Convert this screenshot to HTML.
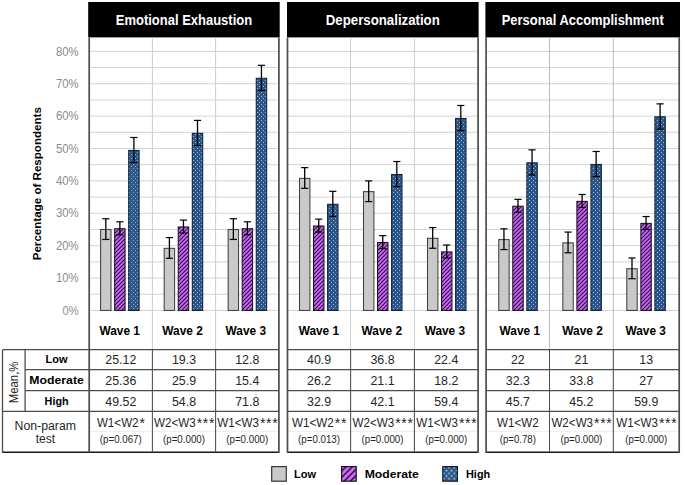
<!DOCTYPE html><html><head><meta charset="utf-8"><style>html,body{margin:0;padding:0;background:#fff;width:685px;height:485px;overflow:hidden}svg{display:block}text{font-family:"Liberation Sans",sans-serif}</style></head><body>
<svg width="685" height="485" viewBox="0 0 685 485">
<defs>
<pattern id="pm" patternUnits="userSpaceOnUse" width="4" height="4"><rect width="4" height="4" fill="#cc66ff"/><path d="M-1,5L5,-1M-3,3L3,-3M1,7L7,1" stroke="#2a1236" stroke-width="1.1"/></pattern>
<pattern id="ph" patternUnits="userSpaceOnUse" width="4" height="4"><rect width="4" height="4" fill="#2b5689"/><rect x="1" y="0" width="1" height="1" fill="#96b3d4"/><rect x="3" y="2" width="1" height="1" fill="#96b3d4"/></pattern>
<pattern id="pmL" patternUnits="userSpaceOnUse" x="341" y="466" width="4.4" height="4.4" patternTransform="rotate(45 348.8 474)"><rect width="4.4" height="4.4" fill="#cf6cff"/><rect width="1.5" height="4.4" fill="#2a1236"/></pattern>
<pattern id="phL" patternUnits="userSpaceOnUse" x="442.5" y="466.3" width="5.2" height="5.5"><rect width="5.2" height="5.5" fill="#2d5a8c"/><rect x="0.6" y="0.75" width="1.5" height="1.5" fill="#c4d6ea"/><rect x="3.2" y="3.5" width="1.5" height="1.5" fill="#c4d6ea"/></pattern>
</defs>
<rect width="685" height="485" fill="#fff"/>
<text x="78.8" y="314.65" font-size="12.4" fill="#8c8c8c" text-anchor="end" textLength="16.2" lengthAdjust="spacingAndGlyphs">0%</text>
<text x="78.8" y="282.26" font-size="12.4" fill="#8c8c8c" text-anchor="end" textLength="22.9" lengthAdjust="spacingAndGlyphs">10%</text>
<text x="78.8" y="249.87" font-size="12.4" fill="#8c8c8c" text-anchor="end" textLength="22.9" lengthAdjust="spacingAndGlyphs">20%</text>
<text x="78.8" y="217.48" font-size="12.4" fill="#8c8c8c" text-anchor="end" textLength="22.9" lengthAdjust="spacingAndGlyphs">30%</text>
<text x="78.8" y="185.09" font-size="12.4" fill="#8c8c8c" text-anchor="end" textLength="22.9" lengthAdjust="spacingAndGlyphs">40%</text>
<text x="78.8" y="152.70" font-size="12.4" fill="#8c8c8c" text-anchor="end" textLength="22.9" lengthAdjust="spacingAndGlyphs">50%</text>
<text x="78.8" y="120.31" font-size="12.4" fill="#8c8c8c" text-anchor="end" textLength="22.9" lengthAdjust="spacingAndGlyphs">60%</text>
<text x="78.8" y="87.92" font-size="12.4" fill="#8c8c8c" text-anchor="end" textLength="22.9" lengthAdjust="spacingAndGlyphs">70%</text>
<text x="78.8" y="55.53" font-size="12.4" fill="#8c8c8c" text-anchor="end" textLength="22.9" lengthAdjust="spacingAndGlyphs">80%</text>
<text transform="translate(40.6,183.7) rotate(-90)" x="0" y="0" font-size="11.2" font-weight="bold" fill="#000" text-anchor="middle" textLength="153.2" lengthAdjust="spacingAndGlyphs">Percentage of Respondents</text>
<rect x="88.2" y="2" width="191.50" height="35.4" fill="#000"/>
<text x="183.95" y="24.7" font-size="14" font-weight="bold" fill="#fff" text-anchor="middle" textLength="136.3" lengthAdjust="spacingAndGlyphs">Emotional Exhaustion</text>
<line x1="89.2" x2="278.9" y1="310.45" y2="310.45" stroke="#d3d3d3" stroke-width="1"/>
<line x1="89.2" x2="278.9" y1="294.25" y2="294.25" stroke="#d3d3d3" stroke-width="1"/>
<line x1="89.2" x2="278.9" y1="278.06" y2="278.06" stroke="#d3d3d3" stroke-width="1"/>
<line x1="89.2" x2="278.9" y1="261.87" y2="261.87" stroke="#d3d3d3" stroke-width="1"/>
<line x1="89.2" x2="278.9" y1="245.67" y2="245.67" stroke="#d3d3d3" stroke-width="1"/>
<line x1="89.2" x2="278.9" y1="229.47" y2="229.47" stroke="#d3d3d3" stroke-width="1"/>
<line x1="89.2" x2="278.9" y1="213.28" y2="213.28" stroke="#d3d3d3" stroke-width="1"/>
<line x1="89.2" x2="278.9" y1="197.08" y2="197.08" stroke="#d3d3d3" stroke-width="1"/>
<line x1="89.2" x2="278.9" y1="180.89" y2="180.89" stroke="#d3d3d3" stroke-width="1"/>
<line x1="89.2" x2="278.9" y1="164.69" y2="164.69" stroke="#d3d3d3" stroke-width="1"/>
<line x1="89.2" x2="278.9" y1="148.50" y2="148.50" stroke="#d3d3d3" stroke-width="1"/>
<line x1="89.2" x2="278.9" y1="132.31" y2="132.31" stroke="#d3d3d3" stroke-width="1"/>
<line x1="89.2" x2="278.9" y1="116.11" y2="116.11" stroke="#d3d3d3" stroke-width="1"/>
<line x1="89.2" x2="278.9" y1="99.91" y2="99.91" stroke="#d3d3d3" stroke-width="1"/>
<line x1="89.2" x2="278.9" y1="83.72" y2="83.72" stroke="#d3d3d3" stroke-width="1"/>
<line x1="89.2" x2="278.9" y1="67.53" y2="67.53" stroke="#d3d3d3" stroke-width="1"/>
<line x1="89.2" x2="278.9" y1="51.33" y2="51.33" stroke="#d3d3d3" stroke-width="1"/>
<line x1="152.4" x2="152.4" y1="37.4" y2="349.7" stroke="#cdcdcd" stroke-width="1"/>
<line x1="215.6" x2="215.6" y1="37.4" y2="349.7" stroke="#cdcdcd" stroke-width="1"/>
<rect x="100.60" y="229.49" width="10.4" height="80.96" fill="#c9c9c9" stroke="#404040" stroke-width="1.05"/>
<rect x="114.65" y="228.71" width="10.4" height="81.74" fill="url(#pm)" stroke="#1e1024" stroke-width="1.05"/>
<rect x="128.70" y="150.45" width="10.4" height="160.00" fill="url(#ph)" stroke="#10203a" stroke-width="1.05"/>
<line x1="105.80" x2="105.80" y1="218.72" y2="239.45" stroke="#000" stroke-width="1.3"/>
<line x1="102.20" x2="109.40" y1="218.72" y2="218.72" stroke="#000" stroke-width="1.2"/>
<line x1="102.20" x2="109.40" y1="239.45" y2="239.45" stroke="#000" stroke-width="1.2"/>
<line x1="119.85" x2="119.85" y1="221.83" y2="234.79" stroke="#000" stroke-width="1.3"/>
<line x1="116.25" x2="123.45" y1="221.83" y2="221.83" stroke="#000" stroke-width="1.2"/>
<line x1="116.25" x2="123.45" y1="234.79" y2="234.79" stroke="#000" stroke-width="1.2"/>
<line x1="133.90" x2="133.90" y1="137.49" y2="162.62" stroke="#000" stroke-width="1.3"/>
<line x1="130.30" x2="137.50" y1="137.49" y2="137.49" stroke="#000" stroke-width="1.2"/>
<line x1="130.30" x2="137.50" y1="162.62" y2="162.62" stroke="#000" stroke-width="1.2"/>
<text x="119.70" y="334.7" font-size="12" font-weight="bold" fill="#000" text-anchor="middle" textLength="40.5" lengthAdjust="spacingAndGlyphs">Wave 1</text>
<text x="120.80" y="364.10" font-size="12.4" fill="#262626" text-anchor="middle">25.12</text>
<text x="120.80" y="385.10" font-size="12.4" fill="#262626" text-anchor="middle">25.36</text>
<text x="120.80" y="405.80" font-size="12.4" fill="#262626" text-anchor="middle">49.52</text>
<text x="96.90" y="426.8" font-size="12" fill="#262626" textLength="41.7" lengthAdjust="spacingAndGlyphs">W1&lt;W2</text>
<text x="139.60" y="427.6" font-size="14" fill="#262626">*</text>
<text x="120.80" y="443" font-size="10" fill="#262626" text-anchor="middle" textLength="41.9" lengthAdjust="spacingAndGlyphs">(p=0.067)</text>
<rect x="164.20" y="248.34" width="10.4" height="62.11" fill="#c9c9c9" stroke="#404040" stroke-width="1.05"/>
<rect x="178.25" y="226.96" width="10.4" height="83.49" fill="url(#pm)" stroke="#1e1024" stroke-width="1.05"/>
<rect x="192.30" y="133.35" width="10.4" height="177.10" fill="url(#ph)" stroke="#10203a" stroke-width="1.05"/>
<line x1="169.40" x2="169.40" y1="237.57" y2="258.30" stroke="#000" stroke-width="1.3"/>
<line x1="165.80" x2="173.00" y1="237.57" y2="237.57" stroke="#000" stroke-width="1.2"/>
<line x1="165.80" x2="173.00" y1="258.30" y2="258.30" stroke="#000" stroke-width="1.2"/>
<line x1="183.45" x2="183.45" y1="220.08" y2="233.04" stroke="#000" stroke-width="1.3"/>
<line x1="179.85" x2="187.05" y1="220.08" y2="220.08" stroke="#000" stroke-width="1.2"/>
<line x1="179.85" x2="187.05" y1="233.04" y2="233.04" stroke="#000" stroke-width="1.2"/>
<line x1="197.50" x2="197.50" y1="120.39" y2="145.52" stroke="#000" stroke-width="1.3"/>
<line x1="193.90" x2="201.10" y1="120.39" y2="120.39" stroke="#000" stroke-width="1.2"/>
<line x1="193.90" x2="201.10" y1="145.52" y2="145.52" stroke="#000" stroke-width="1.2"/>
<text x="182.60" y="334.7" font-size="12" font-weight="bold" fill="#000" text-anchor="middle" textLength="40.5" lengthAdjust="spacingAndGlyphs">Wave 2</text>
<text x="184.00" y="364.10" font-size="12.4" fill="#262626" text-anchor="middle">19.3</text>
<text x="184.00" y="385.10" font-size="12.4" fill="#262626" text-anchor="middle">25.9</text>
<text x="184.00" y="405.80" font-size="12.4" fill="#262626" text-anchor="middle">54.8</text>
<text x="154.00" y="426.8" font-size="12" fill="#262626" textLength="41.7" lengthAdjust="spacingAndGlyphs">W2&lt;W3</text>
<text x="196.70 202.80 208.90" y="427.6" font-size="14" fill="#262626">***</text>
<text x="184.00" y="443" font-size="10" fill="#262626" text-anchor="middle" textLength="41.9" lengthAdjust="spacingAndGlyphs">(p=0.000)</text>
<rect x="228.15" y="229.49" width="10.4" height="80.96" fill="#c9c9c9" stroke="#404040" stroke-width="1.05"/>
<rect x="242.20" y="228.71" width="10.4" height="81.74" fill="url(#pm)" stroke="#1e1024" stroke-width="1.05"/>
<rect x="256.25" y="78.29" width="10.4" height="232.16" fill="url(#ph)" stroke="#10203a" stroke-width="1.05"/>
<line x1="233.35" x2="233.35" y1="218.72" y2="239.45" stroke="#000" stroke-width="1.3"/>
<line x1="229.75" x2="236.95" y1="218.72" y2="218.72" stroke="#000" stroke-width="1.2"/>
<line x1="229.75" x2="236.95" y1="239.45" y2="239.45" stroke="#000" stroke-width="1.2"/>
<line x1="247.40" x2="247.40" y1="221.83" y2="234.79" stroke="#000" stroke-width="1.3"/>
<line x1="243.80" x2="251.00" y1="221.83" y2="221.83" stroke="#000" stroke-width="1.2"/>
<line x1="243.80" x2="251.00" y1="234.79" y2="234.79" stroke="#000" stroke-width="1.2"/>
<line x1="261.45" x2="261.45" y1="65.32" y2="90.46" stroke="#000" stroke-width="1.3"/>
<line x1="257.85" x2="265.05" y1="65.32" y2="65.32" stroke="#000" stroke-width="1.2"/>
<line x1="257.85" x2="265.05" y1="90.46" y2="90.46" stroke="#000" stroke-width="1.2"/>
<text x="245.80" y="334.7" font-size="12" font-weight="bold" fill="#000" text-anchor="middle" textLength="40.5" lengthAdjust="spacingAndGlyphs">Wave 3</text>
<text x="247.25" y="364.10" font-size="12.4" fill="#262626" text-anchor="middle">12.8</text>
<text x="247.25" y="385.10" font-size="12.4" fill="#262626" text-anchor="middle">15.4</text>
<text x="247.25" y="405.80" font-size="12.4" fill="#262626" text-anchor="middle">71.8</text>
<text x="217.25" y="426.8" font-size="12" fill="#262626" textLength="41.7" lengthAdjust="spacingAndGlyphs">W1&lt;W3</text>
<text x="259.95 266.05 272.15" y="427.6" font-size="14" fill="#262626">***</text>
<text x="247.25" y="443" font-size="10" fill="#262626" text-anchor="middle" textLength="41.9" lengthAdjust="spacingAndGlyphs">(p=0.000)</text>
<line x1="89.2" x2="278.9" y1="349.7" y2="349.7" stroke="#4d4d4d" stroke-width="1.3"/>
<line x1="89.2" x2="278.9" y1="369.6" y2="369.6" stroke="#4d4d4d" stroke-width="1.3"/>
<line x1="89.2" x2="278.9" y1="390.6" y2="390.6" stroke="#4d4d4d" stroke-width="1.3"/>
<line x1="89.2" x2="278.9" y1="411.3" y2="411.3" stroke="#4d4d4d" stroke-width="1.3"/>
<line x1="89.2" x2="278.9" y1="452.2" y2="452.2" stroke="#1a1a1a" stroke-width="1.6"/>
<line x1="89.2" x2="278.9" y1="431.3" y2="431.3" stroke="#ececec" stroke-width="1"/>
<line x1="152.4" x2="152.4" y1="349.7" y2="452.2" stroke="#4d4d4d" stroke-width="1.05"/>
<line x1="215.6" x2="215.6" y1="349.7" y2="452.2" stroke="#4d4d4d" stroke-width="1.05"/>
<line x1="89.2" x2="89.2" y1="37.4" y2="453.0" stroke="#4d4d4d" stroke-width="1.7"/>
<line x1="278.9" x2="278.9" y1="37.4" y2="453.0" stroke="#4d4d4d" stroke-width="1.7"/>
<rect x="287" y="2" width="191.60" height="35.4" fill="#000"/>
<text x="382.80" y="24.7" font-size="14" font-weight="bold" fill="#fff" text-anchor="middle" textLength="114" lengthAdjust="spacingAndGlyphs">Depersonalization</text>
<line x1="287.5" x2="478.1" y1="310.45" y2="310.45" stroke="#d3d3d3" stroke-width="1"/>
<line x1="287.5" x2="478.1" y1="294.25" y2="294.25" stroke="#d3d3d3" stroke-width="1"/>
<line x1="287.5" x2="478.1" y1="278.06" y2="278.06" stroke="#d3d3d3" stroke-width="1"/>
<line x1="287.5" x2="478.1" y1="261.87" y2="261.87" stroke="#d3d3d3" stroke-width="1"/>
<line x1="287.5" x2="478.1" y1="245.67" y2="245.67" stroke="#d3d3d3" stroke-width="1"/>
<line x1="287.5" x2="478.1" y1="229.47" y2="229.47" stroke="#d3d3d3" stroke-width="1"/>
<line x1="287.5" x2="478.1" y1="213.28" y2="213.28" stroke="#d3d3d3" stroke-width="1"/>
<line x1="287.5" x2="478.1" y1="197.08" y2="197.08" stroke="#d3d3d3" stroke-width="1"/>
<line x1="287.5" x2="478.1" y1="180.89" y2="180.89" stroke="#d3d3d3" stroke-width="1"/>
<line x1="287.5" x2="478.1" y1="164.69" y2="164.69" stroke="#d3d3d3" stroke-width="1"/>
<line x1="287.5" x2="478.1" y1="148.50" y2="148.50" stroke="#d3d3d3" stroke-width="1"/>
<line x1="287.5" x2="478.1" y1="132.31" y2="132.31" stroke="#d3d3d3" stroke-width="1"/>
<line x1="287.5" x2="478.1" y1="116.11" y2="116.11" stroke="#d3d3d3" stroke-width="1"/>
<line x1="287.5" x2="478.1" y1="99.91" y2="99.91" stroke="#d3d3d3" stroke-width="1"/>
<line x1="287.5" x2="478.1" y1="83.72" y2="83.72" stroke="#d3d3d3" stroke-width="1"/>
<line x1="287.5" x2="478.1" y1="67.53" y2="67.53" stroke="#d3d3d3" stroke-width="1"/>
<line x1="287.5" x2="478.1" y1="51.33" y2="51.33" stroke="#d3d3d3" stroke-width="1"/>
<line x1="350.6" x2="350.6" y1="37.4" y2="349.7" stroke="#cdcdcd" stroke-width="1"/>
<line x1="414.4" x2="414.4" y1="37.4" y2="349.7" stroke="#cdcdcd" stroke-width="1"/>
<rect x="299.50" y="178.37" width="10.4" height="132.08" fill="#c9c9c9" stroke="#404040" stroke-width="1.05"/>
<rect x="313.55" y="225.99" width="10.4" height="84.46" fill="url(#pm)" stroke="#1e1024" stroke-width="1.05"/>
<rect x="327.60" y="204.29" width="10.4" height="106.16" fill="url(#ph)" stroke="#10203a" stroke-width="1.05"/>
<line x1="304.70" x2="304.70" y1="167.61" y2="188.34" stroke="#000" stroke-width="1.3"/>
<line x1="301.10" x2="308.30" y1="167.61" y2="167.61" stroke="#000" stroke-width="1.2"/>
<line x1="301.10" x2="308.30" y1="188.34" y2="188.34" stroke="#000" stroke-width="1.2"/>
<line x1="318.75" x2="318.75" y1="219.11" y2="232.07" stroke="#000" stroke-width="1.3"/>
<line x1="315.15" x2="322.35" y1="219.11" y2="219.11" stroke="#000" stroke-width="1.2"/>
<line x1="315.15" x2="322.35" y1="232.07" y2="232.07" stroke="#000" stroke-width="1.2"/>
<line x1="332.80" x2="332.80" y1="191.32" y2="216.45" stroke="#000" stroke-width="1.3"/>
<line x1="329.20" x2="336.40" y1="191.32" y2="191.32" stroke="#000" stroke-width="1.2"/>
<line x1="329.20" x2="336.40" y1="216.45" y2="216.45" stroke="#000" stroke-width="1.2"/>
<text x="318.90" y="334.7" font-size="12" font-weight="bold" fill="#000" text-anchor="middle" textLength="40.5" lengthAdjust="spacingAndGlyphs">Wave 1</text>
<text x="319.05" y="364.10" font-size="12.4" fill="#262626" text-anchor="middle">40.9</text>
<text x="319.05" y="385.10" font-size="12.4" fill="#262626" text-anchor="middle">26.2</text>
<text x="319.05" y="405.80" font-size="12.4" fill="#262626" text-anchor="middle">32.9</text>
<text x="292.10" y="426.8" font-size="12" fill="#262626" textLength="41.7" lengthAdjust="spacingAndGlyphs">W1&lt;W2</text>
<text x="334.80 340.90" y="427.6" font-size="14" fill="#262626">**</text>
<text x="319.05" y="443" font-size="10" fill="#262626" text-anchor="middle" textLength="41.9" lengthAdjust="spacingAndGlyphs">(p=0.013)</text>
<rect x="363.50" y="191.65" width="10.4" height="118.80" fill="#c9c9c9" stroke="#404040" stroke-width="1.05"/>
<rect x="377.55" y="242.51" width="10.4" height="67.94" fill="url(#pm)" stroke="#1e1024" stroke-width="1.05"/>
<rect x="391.60" y="174.49" width="10.4" height="135.96" fill="url(#ph)" stroke="#10203a" stroke-width="1.05"/>
<line x1="368.70" x2="368.70" y1="180.89" y2="201.62" stroke="#000" stroke-width="1.3"/>
<line x1="365.10" x2="372.30" y1="180.89" y2="180.89" stroke="#000" stroke-width="1.2"/>
<line x1="365.10" x2="372.30" y1="201.62" y2="201.62" stroke="#000" stroke-width="1.2"/>
<line x1="382.75" x2="382.75" y1="235.63" y2="248.59" stroke="#000" stroke-width="1.3"/>
<line x1="379.15" x2="386.35" y1="235.63" y2="235.63" stroke="#000" stroke-width="1.2"/>
<line x1="379.15" x2="386.35" y1="248.59" y2="248.59" stroke="#000" stroke-width="1.2"/>
<line x1="396.80" x2="396.80" y1="161.52" y2="186.66" stroke="#000" stroke-width="1.3"/>
<line x1="393.20" x2="400.40" y1="161.52" y2="161.52" stroke="#000" stroke-width="1.2"/>
<line x1="393.20" x2="400.40" y1="186.66" y2="186.66" stroke="#000" stroke-width="1.2"/>
<text x="381.80" y="334.7" font-size="12" font-weight="bold" fill="#000" text-anchor="middle" textLength="40.5" lengthAdjust="spacingAndGlyphs">Wave 2</text>
<text x="382.50" y="364.10" font-size="12.4" fill="#262626" text-anchor="middle">36.8</text>
<text x="382.50" y="385.10" font-size="12.4" fill="#262626" text-anchor="middle">21.1</text>
<text x="382.50" y="405.80" font-size="12.4" fill="#262626" text-anchor="middle">42.1</text>
<text x="352.50" y="426.8" font-size="12" fill="#262626" textLength="41.7" lengthAdjust="spacingAndGlyphs">W2&lt;W3</text>
<text x="395.20 401.30 407.40" y="427.6" font-size="14" fill="#262626">***</text>
<text x="382.50" y="443" font-size="10" fill="#262626" text-anchor="middle" textLength="41.9" lengthAdjust="spacingAndGlyphs">(p=0.000)</text>
<rect x="427.50" y="238.30" width="10.4" height="72.15" fill="#c9c9c9" stroke="#404040" stroke-width="1.05"/>
<rect x="441.55" y="251.90" width="10.4" height="58.55" fill="url(#pm)" stroke="#1e1024" stroke-width="1.05"/>
<rect x="455.60" y="118.45" width="10.4" height="192.00" fill="url(#ph)" stroke="#10203a" stroke-width="1.05"/>
<line x1="432.70" x2="432.70" y1="227.53" y2="248.26" stroke="#000" stroke-width="1.3"/>
<line x1="429.10" x2="436.30" y1="227.53" y2="227.53" stroke="#000" stroke-width="1.2"/>
<line x1="429.10" x2="436.30" y1="248.26" y2="248.26" stroke="#000" stroke-width="1.2"/>
<line x1="446.75" x2="446.75" y1="245.02" y2="257.98" stroke="#000" stroke-width="1.3"/>
<line x1="443.15" x2="450.35" y1="245.02" y2="245.02" stroke="#000" stroke-width="1.2"/>
<line x1="443.15" x2="450.35" y1="257.98" y2="257.98" stroke="#000" stroke-width="1.2"/>
<line x1="460.80" x2="460.80" y1="105.49" y2="130.62" stroke="#000" stroke-width="1.3"/>
<line x1="457.20" x2="464.40" y1="105.49" y2="105.49" stroke="#000" stroke-width="1.2"/>
<line x1="457.20" x2="464.40" y1="130.62" y2="130.62" stroke="#000" stroke-width="1.2"/>
<text x="444.90" y="334.7" font-size="12" font-weight="bold" fill="#000" text-anchor="middle" textLength="40.5" lengthAdjust="spacingAndGlyphs">Wave 3</text>
<text x="446.25" y="364.10" font-size="12.4" fill="#262626" text-anchor="middle">22.4</text>
<text x="446.25" y="385.10" font-size="12.4" fill="#262626" text-anchor="middle">18.2</text>
<text x="446.25" y="405.80" font-size="12.4" fill="#262626" text-anchor="middle">59.4</text>
<text x="416.25" y="426.8" font-size="12" fill="#262626" textLength="41.7" lengthAdjust="spacingAndGlyphs">W1&lt;W3</text>
<text x="458.95 465.05 471.15" y="427.6" font-size="14" fill="#262626">***</text>
<text x="446.25" y="443" font-size="10" fill="#262626" text-anchor="middle" textLength="41.9" lengthAdjust="spacingAndGlyphs">(p=0.000)</text>
<line x1="287.5" x2="478.1" y1="349.7" y2="349.7" stroke="#4d4d4d" stroke-width="1.3"/>
<line x1="287.5" x2="478.1" y1="369.6" y2="369.6" stroke="#4d4d4d" stroke-width="1.3"/>
<line x1="287.5" x2="478.1" y1="390.6" y2="390.6" stroke="#4d4d4d" stroke-width="1.3"/>
<line x1="287.5" x2="478.1" y1="411.3" y2="411.3" stroke="#4d4d4d" stroke-width="1.3"/>
<line x1="287.5" x2="478.1" y1="452.2" y2="452.2" stroke="#1a1a1a" stroke-width="1.6"/>
<line x1="287.5" x2="478.1" y1="431.3" y2="431.3" stroke="#ececec" stroke-width="1"/>
<line x1="350.6" x2="350.6" y1="349.7" y2="452.2" stroke="#4d4d4d" stroke-width="1.05"/>
<line x1="414.4" x2="414.4" y1="349.7" y2="452.2" stroke="#4d4d4d" stroke-width="1.05"/>
<line x1="287.5" x2="287.5" y1="37.4" y2="453.0" stroke="#4d4d4d" stroke-width="1.7"/>
<line x1="478.1" x2="478.1" y1="37.4" y2="453.0" stroke="#4d4d4d" stroke-width="1.7"/>
<rect x="485.4" y="2" width="194.60" height="35.4" fill="#000"/>
<text x="582.70" y="24.7" font-size="14" font-weight="bold" fill="#fff" text-anchor="middle" textLength="162" lengthAdjust="spacingAndGlyphs">Personal Accomplishment</text>
<line x1="486.1" x2="679.2" y1="310.45" y2="310.45" stroke="#d3d3d3" stroke-width="1"/>
<line x1="486.1" x2="679.2" y1="294.25" y2="294.25" stroke="#d3d3d3" stroke-width="1"/>
<line x1="486.1" x2="679.2" y1="278.06" y2="278.06" stroke="#d3d3d3" stroke-width="1"/>
<line x1="486.1" x2="679.2" y1="261.87" y2="261.87" stroke="#d3d3d3" stroke-width="1"/>
<line x1="486.1" x2="679.2" y1="245.67" y2="245.67" stroke="#d3d3d3" stroke-width="1"/>
<line x1="486.1" x2="679.2" y1="229.47" y2="229.47" stroke="#d3d3d3" stroke-width="1"/>
<line x1="486.1" x2="679.2" y1="213.28" y2="213.28" stroke="#d3d3d3" stroke-width="1"/>
<line x1="486.1" x2="679.2" y1="197.08" y2="197.08" stroke="#d3d3d3" stroke-width="1"/>
<line x1="486.1" x2="679.2" y1="180.89" y2="180.89" stroke="#d3d3d3" stroke-width="1"/>
<line x1="486.1" x2="679.2" y1="164.69" y2="164.69" stroke="#d3d3d3" stroke-width="1"/>
<line x1="486.1" x2="679.2" y1="148.50" y2="148.50" stroke="#d3d3d3" stroke-width="1"/>
<line x1="486.1" x2="679.2" y1="132.31" y2="132.31" stroke="#d3d3d3" stroke-width="1"/>
<line x1="486.1" x2="679.2" y1="116.11" y2="116.11" stroke="#d3d3d3" stroke-width="1"/>
<line x1="486.1" x2="679.2" y1="99.91" y2="99.91" stroke="#d3d3d3" stroke-width="1"/>
<line x1="486.1" x2="679.2" y1="83.72" y2="83.72" stroke="#d3d3d3" stroke-width="1"/>
<line x1="486.1" x2="679.2" y1="67.53" y2="67.53" stroke="#d3d3d3" stroke-width="1"/>
<line x1="486.1" x2="679.2" y1="51.33" y2="51.33" stroke="#d3d3d3" stroke-width="1"/>
<line x1="549.5" x2="549.5" y1="37.4" y2="349.7" stroke="#bcbcbc" stroke-width="1"/>
<line x1="613.3" x2="613.3" y1="37.4" y2="349.7" stroke="#bcbcbc" stroke-width="1"/>
<rect x="498.75" y="239.59" width="10.4" height="70.86" fill="#c9c9c9" stroke="#404040" stroke-width="1.05"/>
<rect x="512.80" y="206.23" width="10.4" height="104.22" fill="url(#pm)" stroke="#1e1024" stroke-width="1.05"/>
<rect x="526.85" y="162.83" width="10.4" height="147.62" fill="url(#ph)" stroke="#10203a" stroke-width="1.05"/>
<line x1="503.95" x2="503.95" y1="228.83" y2="249.56" stroke="#000" stroke-width="1.3"/>
<line x1="500.35" x2="507.55" y1="228.83" y2="228.83" stroke="#000" stroke-width="1.2"/>
<line x1="500.35" x2="507.55" y1="249.56" y2="249.56" stroke="#000" stroke-width="1.2"/>
<line x1="518.00" x2="518.00" y1="199.35" y2="212.31" stroke="#000" stroke-width="1.3"/>
<line x1="514.40" x2="521.60" y1="199.35" y2="199.35" stroke="#000" stroke-width="1.2"/>
<line x1="514.40" x2="521.60" y1="212.31" y2="212.31" stroke="#000" stroke-width="1.2"/>
<line x1="532.05" x2="532.05" y1="149.86" y2="175.00" stroke="#000" stroke-width="1.3"/>
<line x1="528.45" x2="535.65" y1="149.86" y2="149.86" stroke="#000" stroke-width="1.2"/>
<line x1="528.45" x2="535.65" y1="175.00" y2="175.00" stroke="#000" stroke-width="1.2"/>
<text x="519.80" y="334.7" font-size="12" font-weight="bold" fill="#000" text-anchor="middle" textLength="40.5" lengthAdjust="spacingAndGlyphs">Wave 1</text>
<text x="517.80" y="364.10" font-size="12.4" fill="#262626" text-anchor="middle">22</text>
<text x="517.80" y="385.10" font-size="12.4" fill="#262626" text-anchor="middle">32.3</text>
<text x="517.80" y="405.80" font-size="12.4" fill="#262626" text-anchor="middle">45.7</text>
<text x="496.95" y="426.8" font-size="12" fill="#262626" textLength="41.7" lengthAdjust="spacingAndGlyphs">W1&lt;W2</text>
<text x="517.80" y="443" font-size="10" fill="#262626" text-anchor="middle" textLength="36.2" lengthAdjust="spacingAndGlyphs">(p=0.78)</text>
<rect x="562.85" y="242.83" width="10.4" height="67.62" fill="#c9c9c9" stroke="#404040" stroke-width="1.05"/>
<rect x="576.90" y="201.37" width="10.4" height="109.08" fill="url(#pm)" stroke="#1e1024" stroke-width="1.05"/>
<rect x="590.95" y="164.45" width="10.4" height="146.00" fill="url(#ph)" stroke="#10203a" stroke-width="1.05"/>
<line x1="568.05" x2="568.05" y1="232.07" y2="252.80" stroke="#000" stroke-width="1.3"/>
<line x1="564.45" x2="571.65" y1="232.07" y2="232.07" stroke="#000" stroke-width="1.2"/>
<line x1="564.45" x2="571.65" y1="252.80" y2="252.80" stroke="#000" stroke-width="1.2"/>
<line x1="582.10" x2="582.10" y1="194.49" y2="207.45" stroke="#000" stroke-width="1.3"/>
<line x1="578.50" x2="585.70" y1="194.49" y2="194.49" stroke="#000" stroke-width="1.2"/>
<line x1="578.50" x2="585.70" y1="207.45" y2="207.45" stroke="#000" stroke-width="1.2"/>
<line x1="596.15" x2="596.15" y1="151.48" y2="176.61" stroke="#000" stroke-width="1.3"/>
<line x1="592.55" x2="599.75" y1="151.48" y2="151.48" stroke="#000" stroke-width="1.2"/>
<line x1="592.55" x2="599.75" y1="176.61" y2="176.61" stroke="#000" stroke-width="1.2"/>
<text x="582.60" y="334.7" font-size="12" font-weight="bold" fill="#000" text-anchor="middle" textLength="40.5" lengthAdjust="spacingAndGlyphs">Wave 2</text>
<text x="581.40" y="364.10" font-size="12.4" fill="#262626" text-anchor="middle">21</text>
<text x="581.40" y="385.10" font-size="12.4" fill="#262626" text-anchor="middle">33.8</text>
<text x="581.40" y="405.80" font-size="12.4" fill="#262626" text-anchor="middle">45.2</text>
<text x="551.40" y="426.8" font-size="12" fill="#262626" textLength="41.7" lengthAdjust="spacingAndGlyphs">W2&lt;W3</text>
<text x="594.10 600.20 606.30" y="427.6" font-size="14" fill="#262626">***</text>
<text x="581.40" y="443" font-size="10" fill="#262626" text-anchor="middle" textLength="41.9" lengthAdjust="spacingAndGlyphs">(p=0.000)</text>
<rect x="626.80" y="268.74" width="10.4" height="41.71" fill="#c9c9c9" stroke="#404040" stroke-width="1.05"/>
<rect x="640.85" y="223.40" width="10.4" height="87.05" fill="url(#pm)" stroke="#1e1024" stroke-width="1.05"/>
<rect x="654.90" y="116.83" width="10.4" height="193.62" fill="url(#ph)" stroke="#10203a" stroke-width="1.05"/>
<line x1="632.00" x2="632.00" y1="257.98" y2="278.71" stroke="#000" stroke-width="1.3"/>
<line x1="628.40" x2="635.60" y1="257.98" y2="257.98" stroke="#000" stroke-width="1.2"/>
<line x1="628.40" x2="635.60" y1="278.71" y2="278.71" stroke="#000" stroke-width="1.2"/>
<line x1="646.05" x2="646.05" y1="216.52" y2="229.47" stroke="#000" stroke-width="1.3"/>
<line x1="642.45" x2="649.65" y1="216.52" y2="216.52" stroke="#000" stroke-width="1.2"/>
<line x1="642.45" x2="649.65" y1="229.47" y2="229.47" stroke="#000" stroke-width="1.2"/>
<line x1="660.10" x2="660.10" y1="103.87" y2="129.00" stroke="#000" stroke-width="1.3"/>
<line x1="656.50" x2="663.70" y1="103.87" y2="103.87" stroke="#000" stroke-width="1.2"/>
<line x1="656.50" x2="663.70" y1="129.00" y2="129.00" stroke="#000" stroke-width="1.2"/>
<text x="645.70" y="334.7" font-size="12" font-weight="bold" fill="#000" text-anchor="middle" textLength="40.5" lengthAdjust="spacingAndGlyphs">Wave 3</text>
<text x="646.25" y="364.10" font-size="12.4" fill="#262626" text-anchor="middle">13</text>
<text x="646.25" y="385.10" font-size="12.4" fill="#262626" text-anchor="middle">27</text>
<text x="646.25" y="405.80" font-size="12.4" fill="#262626" text-anchor="middle">59.9</text>
<text x="616.25" y="426.8" font-size="12" fill="#262626" textLength="41.7" lengthAdjust="spacingAndGlyphs">W1&lt;W3</text>
<text x="658.95 665.05 671.15" y="427.6" font-size="14" fill="#262626">***</text>
<text x="646.25" y="443" font-size="10" fill="#262626" text-anchor="middle" textLength="41.9" lengthAdjust="spacingAndGlyphs">(p=0.000)</text>
<line x1="486.1" x2="679.2" y1="349.7" y2="349.7" stroke="#4d4d4d" stroke-width="1.3"/>
<line x1="486.1" x2="679.2" y1="369.6" y2="369.6" stroke="#4d4d4d" stroke-width="1.3"/>
<line x1="486.1" x2="679.2" y1="390.6" y2="390.6" stroke="#4d4d4d" stroke-width="1.3"/>
<line x1="486.1" x2="679.2" y1="411.3" y2="411.3" stroke="#4d4d4d" stroke-width="1.3"/>
<line x1="486.1" x2="679.2" y1="452.2" y2="452.2" stroke="#1a1a1a" stroke-width="1.6"/>
<line x1="486.1" x2="679.2" y1="431.3" y2="431.3" stroke="#ececec" stroke-width="1"/>
<line x1="549.5" x2="549.5" y1="349.7" y2="452.2" stroke="#4d4d4d" stroke-width="1.05"/>
<line x1="613.3" x2="613.3" y1="349.7" y2="452.2" stroke="#4d4d4d" stroke-width="1.05"/>
<line x1="486.1" x2="486.1" y1="37.4" y2="453.0" stroke="#4d4d4d" stroke-width="1.7"/>
<line x1="679.2" x2="679.2" y1="37.4" y2="453.0" stroke="#4d4d4d" stroke-width="1.7"/>
<line x1="2.5" x2="89.2" y1="349.7" y2="349.7" stroke="#4d4d4d" stroke-width="1.3"/>
<line x1="25.1" x2="89.2" y1="369.6" y2="369.6" stroke="#4d4d4d" stroke-width="1.3"/>
<line x1="25.1" x2="89.2" y1="390.6" y2="390.6" stroke="#4d4d4d" stroke-width="1.3"/>
<line x1="2.5" x2="89.2" y1="411.3" y2="411.3" stroke="#4d4d4d" stroke-width="1.3"/>
<line x1="2.5" x2="89.2" y1="452.2" y2="452.2" stroke="#1a1a1a" stroke-width="1.6"/>
<line x1="2.5" x2="2.5" y1="349.7" y2="453.0" stroke="#4d4d4d" stroke-width="1.3"/>
<line x1="25.1" x2="25.1" y1="349.7" y2="411.3" stroke="#4d4d4d" stroke-width="1.3"/>
<text transform="translate(17.5,382.4) rotate(-90)" font-size="12" fill="#262626" text-anchor="middle" textLength="41.8" lengthAdjust="spacingAndGlyphs">Mean,%</text>
<text x="56.6" y="363.00" font-size="11.5" font-weight="bold" fill="#000" text-anchor="middle" textLength="22" lengthAdjust="spacingAndGlyphs">Low</text>
<text x="56.6" y="384.00" font-size="11.5" font-weight="bold" fill="#000" text-anchor="middle" textLength="54.5" lengthAdjust="spacingAndGlyphs">Moderate</text>
<text x="56.6" y="404.70" font-size="11.5" font-weight="bold" fill="#000" text-anchor="middle" textLength="24" lengthAdjust="spacingAndGlyphs">High</text>
<text x="45.3" y="429.7" font-size="12" fill="#262626" text-anchor="middle" textLength="61.4" lengthAdjust="spacingAndGlyphs">Non-param</text>
<text x="45.3" y="442.7" font-size="12" fill="#262626" text-anchor="middle">test</text>
<rect x="271.70" y="466.6" width="14.6" height="14.6" fill="#c9c9c9" stroke="#333" stroke-width="1.2"/>
<text x="294.1" y="478.3" font-size="11.5" font-weight="bold" fill="#000" textLength="22" lengthAdjust="spacingAndGlyphs">Low</text>
<rect x="341.60" y="466.6" width="14.6" height="14.6" fill="url(#pmL)" stroke="#1a0f20" stroke-width="1.2"/>
<text x="364.7" y="478.3" font-size="11.5" font-weight="bold" fill="#000" textLength="54.2" lengthAdjust="spacingAndGlyphs">Moderate</text>
<rect x="442.80" y="466.6" width="14.6" height="14.6" fill="url(#phL)" stroke="#0d1a2a" stroke-width="1.2"/>
<text x="466" y="478.3" font-size="11.5" font-weight="bold" fill="#000" textLength="24.2" lengthAdjust="spacingAndGlyphs">High</text>
</svg></body></html>
